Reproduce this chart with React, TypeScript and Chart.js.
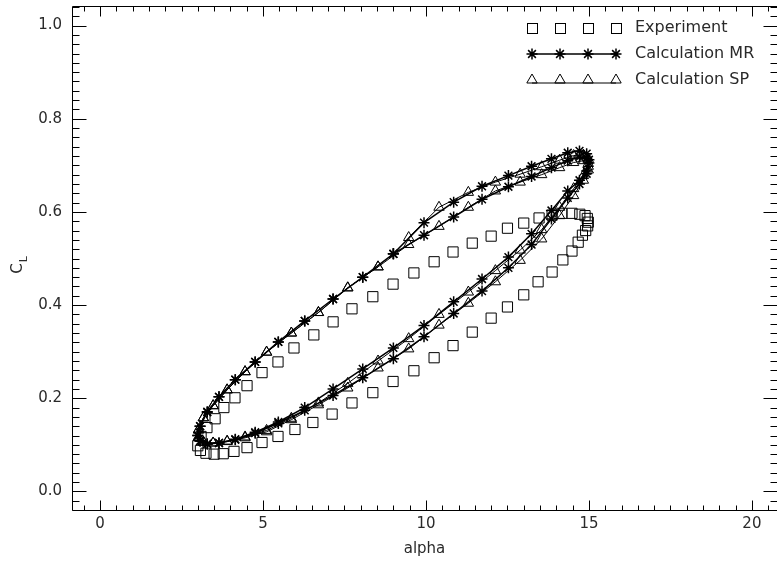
import React, { useEffect, useRef } from 'react';
import { Chart, registerables } from 'chart.js';

Chart.register(...registerables);

// ---- Data ----
const expAlpha = [
  3.00, 3.08, 3.25, 3.50, 3.78, 4.11, 4.51, 4.97, 5.46, 5.98, 6.53, 7.12, 7.73, 8.37, 8.99, 9.63,
  10.25, 10.83, 11.42, 12.00, 12.50, 13.00, 13.44, 13.87, 14.20, 14.48, 14.67, 14.80, 14.90, 14.96,
  14.98, 14.95, 14.88, 14.72, 14.48, 14.17, 13.87, 13.47, 13.00, 12.50, 12.00, 11.42, 10.83, 10.25,
  9.63, 8.99, 8.37, 7.73, 7.15, 6.56, 5.95, 5.46, 4.97, 4.51, 4.14, 3.80, 3.53, 3.28, 3.10,
];
const expCL = [
  0.098, 0.088, 0.082, 0.080, 0.081, 0.086, 0.094, 0.105, 0.118, 0.133, 0.148, 0.166, 0.190, 0.212, 0.236, 0.259,
  0.287, 0.313, 0.342, 0.372, 0.396, 0.422, 0.450, 0.471, 0.497, 0.516, 0.535, 0.550, 0.560, 0.570,
  0.578, 0.586, 0.592, 0.595, 0.597, 0.597, 0.593, 0.587, 0.576, 0.565, 0.548, 0.533, 0.514, 0.493,
  0.469, 0.445, 0.418, 0.392, 0.364, 0.336, 0.308, 0.278, 0.255, 0.227, 0.201, 0.180, 0.156, 0.137, 0.118,
];

const mrAlpha = [
  9.00, 9.94, 10.85, 11.72, 12.53, 13.24, 13.85, 14.35, 14.71, 14.93, 15.00,
  14.93, 14.71, 14.35, 13.85, 13.24, 12.53, 11.72, 10.85, 9.94, 9.00, 8.06, 7.15, 6.28, 5.47, 4.76, 4.15, 3.65, 3.29, 3.07, 3.00,
  3.07, 3.29, 3.65, 4.15, 4.76, 5.47, 6.28, 7.15, 8.06, 9.00, 9.94, 10.85, 11.72, 12.53, 13.24, 13.85, 14.35, 14.71, 14.93, 15.00,
  14.93, 14.71, 14.35, 13.85, 13.24, 12.53, 11.72, 10.85, 9.94, 9.00, 8.06, 7.15, 6.28, 5.47, 4.76, 4.15, 3.65, 3.29, 3.07, 3.00,
  3.07, 3.29, 3.65, 4.15, 4.76, 5.47, 6.28, 7.15, 8.06, 9.00,
];
const mrCL = [
  0.510, 0.577, 0.621, 0.655, 0.678, 0.698, 0.714, 0.727, 0.731, 0.725, 0.712,
  0.688, 0.668, 0.645, 0.603, 0.553, 0.503, 0.456, 0.407, 0.356, 0.308, 0.263, 0.220, 0.180, 0.149, 0.127, 0.112, 0.104, 0.102, 0.108, 0.120,
  0.140, 0.170, 0.203, 0.240, 0.278, 0.321, 0.366, 0.413, 0.460, 0.510, 0.550, 0.589, 0.627, 0.654, 0.676, 0.695, 0.710, 0.718, 0.715, 0.705,
  0.682, 0.660, 0.630, 0.585, 0.530, 0.480, 0.430, 0.382, 0.332, 0.285, 0.244, 0.206, 0.174, 0.146, 0.125, 0.111, 0.104, 0.102, 0.108, 0.120,
  0.140, 0.171, 0.203, 0.240, 0.278, 0.321, 0.366, 0.413, 0.460, 0.510,
];

const spAlpha = [
  9.47, 10.40, 11.30, 12.13, 12.89, 13.55, 14.10, 14.53, 14.83, 14.98,
  14.98, 14.83, 14.53, 14.10, 13.55, 12.89, 12.13, 11.30, 10.40, 9.47, 8.53, 7.60, 6.70, 5.87, 5.11, 4.45, 3.90, 3.47, 3.17, 3.02,
  3.02, 3.17, 3.47, 3.90, 4.45, 5.11, 5.87, 6.70, 7.60, 8.53, 9.47, 10.40, 11.30, 12.13, 12.89, 13.55, 14.10, 14.53, 14.83, 14.98,
  14.98, 14.83, 14.53, 14.10, 13.55, 12.89, 12.13, 11.30, 10.40, 9.47, 8.53, 7.60, 6.70, 5.87, 5.11, 4.45, 3.90, 3.47, 3.17, 3.02,
  3.02, 3.17, 3.47, 3.90, 4.45, 5.11, 5.87, 6.70, 7.60, 8.53,
];
const spCL = [
  0.545, 0.610, 0.642, 0.664, 0.681, 0.697, 0.711, 0.721, 0.722, 0.713,
  0.698, 0.678, 0.650, 0.610, 0.562, 0.518, 0.474, 0.428, 0.380, 0.328, 0.280, 0.232, 0.190, 0.157, 0.131, 0.117, 0.108, 0.104, 0.106, 0.116,
  0.132, 0.158, 0.184, 0.218, 0.257, 0.299, 0.340, 0.384, 0.437, 0.482, 0.530, 0.569, 0.610, 0.645, 0.664, 0.680, 0.695, 0.706, 0.710, 0.704,
  0.690, 0.668, 0.635, 0.592, 0.542, 0.496, 0.450, 0.404, 0.357, 0.306, 0.265, 0.222, 0.186, 0.154, 0.128, 0.115, 0.107, 0.104, 0.106, 0.116,
  0.132, 0.158, 0.184, 0.218, 0.257, 0.299, 0.340, 0.384, 0.437, 0.482,
];

const xTickValues = [0, 5, 10, 15, 20];
const xTickLabels = ['0', '5', '10', '15', '20'];
const yTickValues = [0.0, 0.2, 0.4, 0.6, 0.8, 1.0];
const seriesLabels = ['Experiment', 'Calculation MR', 'Calculation SP'];
const xTitle = 'alpha';
const yTitleMain = 'C';
const yTitleSub = 'L';

const FONT_FAMILY = "'DejaVu Sans', sans-serif";
const FONT_SIZE = 15;
const LEGEND_FONT_SIZE = 16;
const TEXT_COLOR = '#2a2a2a';

const toPoints = (xs: number[], ys: number[]) => xs.map((x, i) => ({ x, y: ys[i] }));

function drawStar(ctx: CanvasRenderingContext2D, x: number, y: number, r: number) {
  const d = r * Math.SQRT1_2;
  ctx.beginPath();
  ctx.moveTo(x - r, y); ctx.lineTo(x + r, y);
  ctx.moveTo(x, y - r); ctx.lineTo(x, y + r);
  ctx.moveTo(x - d, y - d); ctx.lineTo(x + d, y + d);
  ctx.moveTo(x - d, y + d); ctx.lineTo(x + d, y - d);
  ctx.stroke();
}
function drawTri(ctx: CanvasRenderingContext2D, x: number, y: number, r: number) {
  ctx.beginPath();
  for (let k = 0; k < 3; k++) {
    const a = (k * 2 * Math.PI) / 3;
    const px = x + Math.sin(a) * r;
    const py = y - Math.cos(a) * r;
    if (k === 0) ctx.moveTo(px, py); else ctx.lineTo(px, py);
  }
  ctx.closePath();
  ctx.stroke();
}

const framePlugin = {
  id: 'idlFrame',
  afterDraw(chart: any) {
    const ctx: CanvasRenderingContext2D = chart.ctx;
    const { left, right, top, bottom } = chart.chartArea;
    const xs = chart.scales.x;
    const ys = chart.scales.y;
    const L = Math.round(left) + 0.5;
    const R = Math.round(right) + 0.5;
    const T = Math.round(top) + 0.5;
    const B = Math.round(bottom) - 0.5;
    ctx.save();
    ctx.strokeStyle = '#000';
    ctx.lineWidth = 1;
    ctx.beginPath();
    ctx.moveTo(L, T); ctx.lineTo(R, T); ctx.lineTo(R, B); ctx.lineTo(L, B); ctx.closePath();
    ctx.stroke();
    // x ticks (every 0.5, major every 5)
    ctx.beginPath();
    for (let i = -2; i <= 42; i++) {
      const v = i * 0.5;
      if (v < xs.min || v > xs.max) continue;
      const px = Math.round(xs.getPixelForValue(v)) + 0.5;
      const len = i % 10 === 0 ? 10 : 5;
      ctx.moveTo(px, B); ctx.lineTo(px, B - len);
      ctx.moveTo(px, T); ctx.lineTo(px, T + len);
    }
    // y ticks (every 0.02, major every 0.2)
    for (let j = -3; j <= 53; j++) {
      const v = j * 0.02;
      if (v < ys.min || v > ys.max) continue;
      const py = Math.round(ys.getPixelForValue(v)) + 0.5;
      const len = j % 10 === 0 ? 14 : 7;
      ctx.moveTo(L, py); ctx.lineTo(L + len, py);
      ctx.moveTo(R, py); ctx.lineTo(R - len, py);
    }
    ctx.stroke();

    ctx.fillStyle = TEXT_COLOR;
    ctx.font = `${FONT_SIZE}px ${FONT_FAMILY}`;

    // x tick labels
    ctx.textAlign = 'center';
    ctx.textBaseline = 'middle';
    xTickValues.forEach((v, i) => {
      ctx.fillText(xTickLabels[i], xs.getPixelForValue(v), bottom + 13);
    });

    // legend
    const symX = [532, 560, 588, 616];
    const rowY = [28, 54, 80];
    const textX = 635;
    ctx.font = `${LEGEND_FONT_SIZE}px ${FONT_FAMILY}`;
    ctx.textAlign = 'left';
    ctx.textBaseline = 'middle';
    seriesLabels.forEach((lab, k) => {
      const y = rowY[k];
      ctx.strokeStyle = '#000';
      if (k === 0) {
        ctx.lineWidth = 1;
        symX.forEach((sx) => ctx.strokeRect(Math.round(sx - 5) + 0.5, Math.round(y - 5) + 0.5, 10, 10));
      } else if (k === 1) {
        ctx.lineWidth = 1.5;
        ctx.beginPath(); ctx.moveTo(symX[0], y); ctx.lineTo(symX[3], y); ctx.stroke();
        symX.forEach((sx) => drawStar(ctx, sx, y, 5.5));
      } else {
        ctx.lineWidth = 1;
        ctx.beginPath(); ctx.moveTo(symX[0], y + 3); ctx.lineTo(symX[3], y + 3); ctx.stroke();
        symX.forEach((sx) => drawTri(ctx, sx, y, 6));
      }
      ctx.fillText(lab, textX, y);
    });

    // y title C_L
    ctx.save();
    ctx.translate(22, (top + bottom) / 2 + 6);
    ctx.rotate(-Math.PI / 2);
    ctx.font = `${FONT_SIZE}px ${FONT_FAMILY}`;
    ctx.textBaseline = 'alphabetic';
    ctx.textAlign = 'left';
    const wC = ctx.measureText(yTitleMain).width;
    ctx.fillText(yTitleMain, -wC / 2 - 4, 0);
    ctx.font = `${FONT_SIZE - 4}px ${FONT_FAMILY}`;
    ctx.fillText(yTitleSub, wC / 2 - 3, 5);
    ctx.restore();

    ctx.restore();
  },
};

export default function App() {
  const ref = useRef<HTMLCanvasElement>(null);
  useEffect(() => {
    document.body.style.margin = '0';
    const canvas = ref.current;
    if (!canvas) return;
    const font = { family: FONT_FAMILY, size: FONT_SIZE };
    const chart = new Chart(canvas, {
      type: 'scatter',
      data: {
        datasets: [
          {
            label: seriesLabels[0],
            data: toPoints(expAlpha, expCL),
            showLine: false,
            pointStyle: 'rect',
            pointRadius: 7.2,
            pointBorderWidth: 1,
            borderColor: '#000',
            pointBorderColor: '#000',
            pointBackgroundColor: 'rgba(0,0,0,0)',
            backgroundColor: 'rgba(0,0,0,0)',
          },
          {
            label: seriesLabels[2],
            data: toPoints(spAlpha, spCL),
            showLine: true,
            tension: 0,
            borderWidth: 1,
            borderColor: '#000',
            pointStyle: 'triangle',
            pointRadius: 6,
            pointBorderWidth: 1,
            pointBorderColor: '#000',
            pointBackgroundColor: 'rgba(0,0,0,0)',
            backgroundColor: 'rgba(0,0,0,0)',
          },
          {
            label: seriesLabels[1],
            data: toPoints(mrAlpha, mrCL),
            showLine: true,
            tension: 0,
            borderWidth: 1.5,
            borderColor: '#000',
            pointStyle: 'star',
            pointRadius: 5.5,
            pointBorderWidth: 1.5,
            pointBorderColor: '#000',
            pointBackgroundColor: 'rgba(0,0,0,0)',
            backgroundColor: 'rgba(0,0,0,0)',
          },
        ],
      },
      options: {
        responsive: false,
        animation: false,
        events: [],
        layout: { autoPadding: false, padding: { top: 6, left: 0, right: 0, bottom: 0 } },
        plugins: { legend: { display: false }, tooltip: { enabled: false }, title: { display: false } },
        scales: {
          x: {
            type: 'linear',
            min: -0.86,
            max: 20.77,
            grid: { display: false, drawTicks: false },
            border: { display: false },
            afterBuildTicks: (s: any) => { s.ticks = xTickValues.map((v) => ({ value: v })); },
            afterFit: (s: any) => { s.height = 52; s.paddingLeft = 0; s.paddingRight = 0; },
            ticks: { display: false },
            title: { display: true, text: xTitle, color: TEXT_COLOR, font, padding: { top: 0, bottom: 5 } },
          },
          y: {
            type: 'linear',
            min: -0.042,
            max: 1.042,
            grid: { display: false, drawTicks: false },
            border: { display: false },
            afterBuildTicks: (s: any) => { s.ticks = yTickValues.map((v) => ({ value: v })); },
            afterFit: (s: any) => { s.width = 72; s.paddingTop = 0; s.paddingBottom = 0; },
            ticks: {
              padding: 10,
              color: TEXT_COLOR,
              font,
              autoSkip: false,
              callback: (v: any) => Number(v).toFixed(1),
            },
          },
        },
      },
      plugins: [framePlugin],
    } as any);
    return () => chart.destroy();
  }, []);
  return (
    <div style={{ width: 777, height: 563 }}>
      <canvas ref={ref} width={777} height={563} style={{ display: 'block' }} />
    </div>
  );
}
